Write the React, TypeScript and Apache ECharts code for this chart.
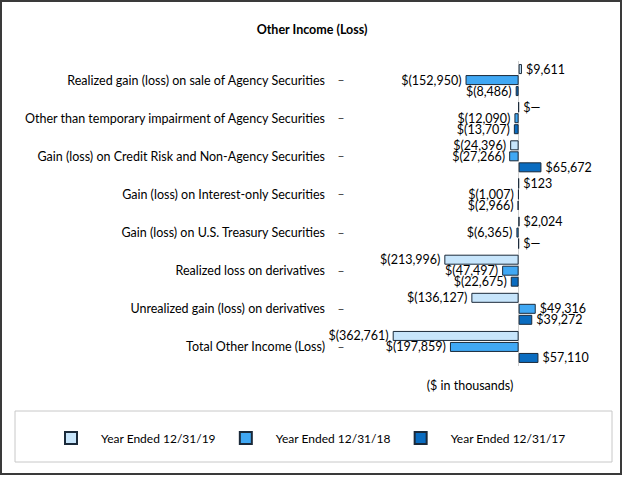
import React, { useEffect, useRef } from "react";
import * as echarts from "echarts";

const categories = [
  "Realized gain (loss) on sale of Agency Securities",
  "Other than temporary impairment of Agency Securities",
  "Gain (loss) on Credit Risk and Non-Agency Securities",
  "Gain (loss) on Interest-only Securities",
  "Gain (loss) on U.S. Treasury Securities",
  "Realized loss on derivatives",
  "Unrealized gain (loss) on derivatives",
  "Total Other Income (Loss)",
];
const seriesNames = ["Year Ended 12/31/19", "Year Ended 12/31/18", "Year Ended 12/31/17"];
const values2019 = [9611, 0, -24396, 123, 2024, -213996, -136127, -362761];
const values2018 = [-152950, -12090, -27266, -1007, -6365, -47497, 49316, -197859];
const values2017 = [-8486, -13707, 65672, -2966, 0, -22675, 39272, 57110];
const colors = ["#C7E5FB", "#40A8F4", "#0A6CC0"];

const FONT = "Lato, 'Noto Sans', sans-serif";

function fmt(v: number): string {
  if (v === 0) return "$\u2014";
  const s = Math.abs(v).toLocaleString("en-US");
  return v < 0 ? `$(${s})` : `$${s}`;
}

function buildData(vals: number[]) {
  return vals.map((v) => ({
    value: v,
    label: { position: v < 0 ? "left" : "right" },
  }));
}

export default function App() {
  const ref = useRef<HTMLDivElement>(null);
  useEffect(() => {
    if (!ref.current) return;
    const chart = echarts.init(ref.current, null, { renderer: "svg" });
    const allVals = [values2019, values2018, values2017];
    chart.setOption({
      animation: false,
      title: {
        text: "Other Income (Loss)",
        left: "center",
        top: 18,
        textStyle: { fontFamily: FONT, fontSize: 12.5, fontWeight: "bold", color: "#000" },
      },
      grid: { left: 352, width: 243, top: 61, height: 305 },
      xAxis: {
        type: "value",
        min: -480000,
        max: 220000,
        show: false,
        splitLine: { show: false },
      },
      yAxis: {
        type: "category",
        data: categories,
        inverse: true,
        axisLine: { show: false },
        axisTick: { show: false },
        axisLabel: {
          margin: 8,
          fontFamily: FONT,
          fontSize: 12.5,
          color: "#000",
          formatter: (v: string) => `{a|${v}}{b|\u2013}`,
          rich: {
            a: { fontFamily: FONT, fontSize: 12.5, color: "#000" },
            b: { fontFamily: "'DejaVu Sans', sans-serif", fontSize: 12, color: "#444", padding: [0, 0, 0, 13] },
          },
        },
      },
      legend: {
        left: 64,
        top: 431,
        padding: 0,
        itemWidth: 12,
        itemHeight: 12,
        itemGap: 23,
        icon: "rect",
        textStyle: { fontFamily: FONT, fontSize: 12, color: "#000", padding: [0, 0, 0, 19] },
        data: seriesNames,
      },
      graphic: [
        {
          type: "rect",
          shape: { x: 1, y: 1, width: 620, height: 473 },
          style: { fill: "none", stroke: "#3a3a3a", lineWidth: 2 },
          silent: true,
        },
        {
          type: "rect",
          shape: { x: 15, y: 411, width: 597, height: 51 },
          style: { fill: "none", stroke: "#c8c8c8", lineWidth: 1 },
          silent: true,
        },
        {
          type: "text",
          x: 470,
          y: 385,
          style: {
            text: "($ in thousands)",
            fontFamily: FONT,
            fontSize: 12.5,
            fill: "#000",
            align: "center",
            verticalAlign: "middle",
          },
        },
      ],
      series: allVals.map((vals, i) => ({
        name: seriesNames[i],
        type: "bar",
        data: buildData(vals),
        barWidth: 10,
        barGap: "10%",
        itemStyle: { color: colors[i], borderColor: "#1b2a3a", borderWidth: 1 },
        label: {
          show: true,
          distance: 4,
          fontFamily: FONT,
          fontSize: 12.5,
          color: "#000",
          formatter: (p: any) => fmt(p.value),
        },
        markLine:
          i === 0
            ? {
                silent: true,
                symbol: "none",
                label: { show: false },
                lineStyle: { color: "#d0d0d0", type: "solid", width: 1 },
                data: [{ xAxis: 0 }],
                z: 0,
              }
            : undefined,
      })),
    });
    return () => chart.dispose();
  }, []);
  return (
    <div
      ref={ref}
      style={{ position: "fixed", left: 0, top: 0, width: 624, height: 477, background: "#fff" }}
    />
  );
}
